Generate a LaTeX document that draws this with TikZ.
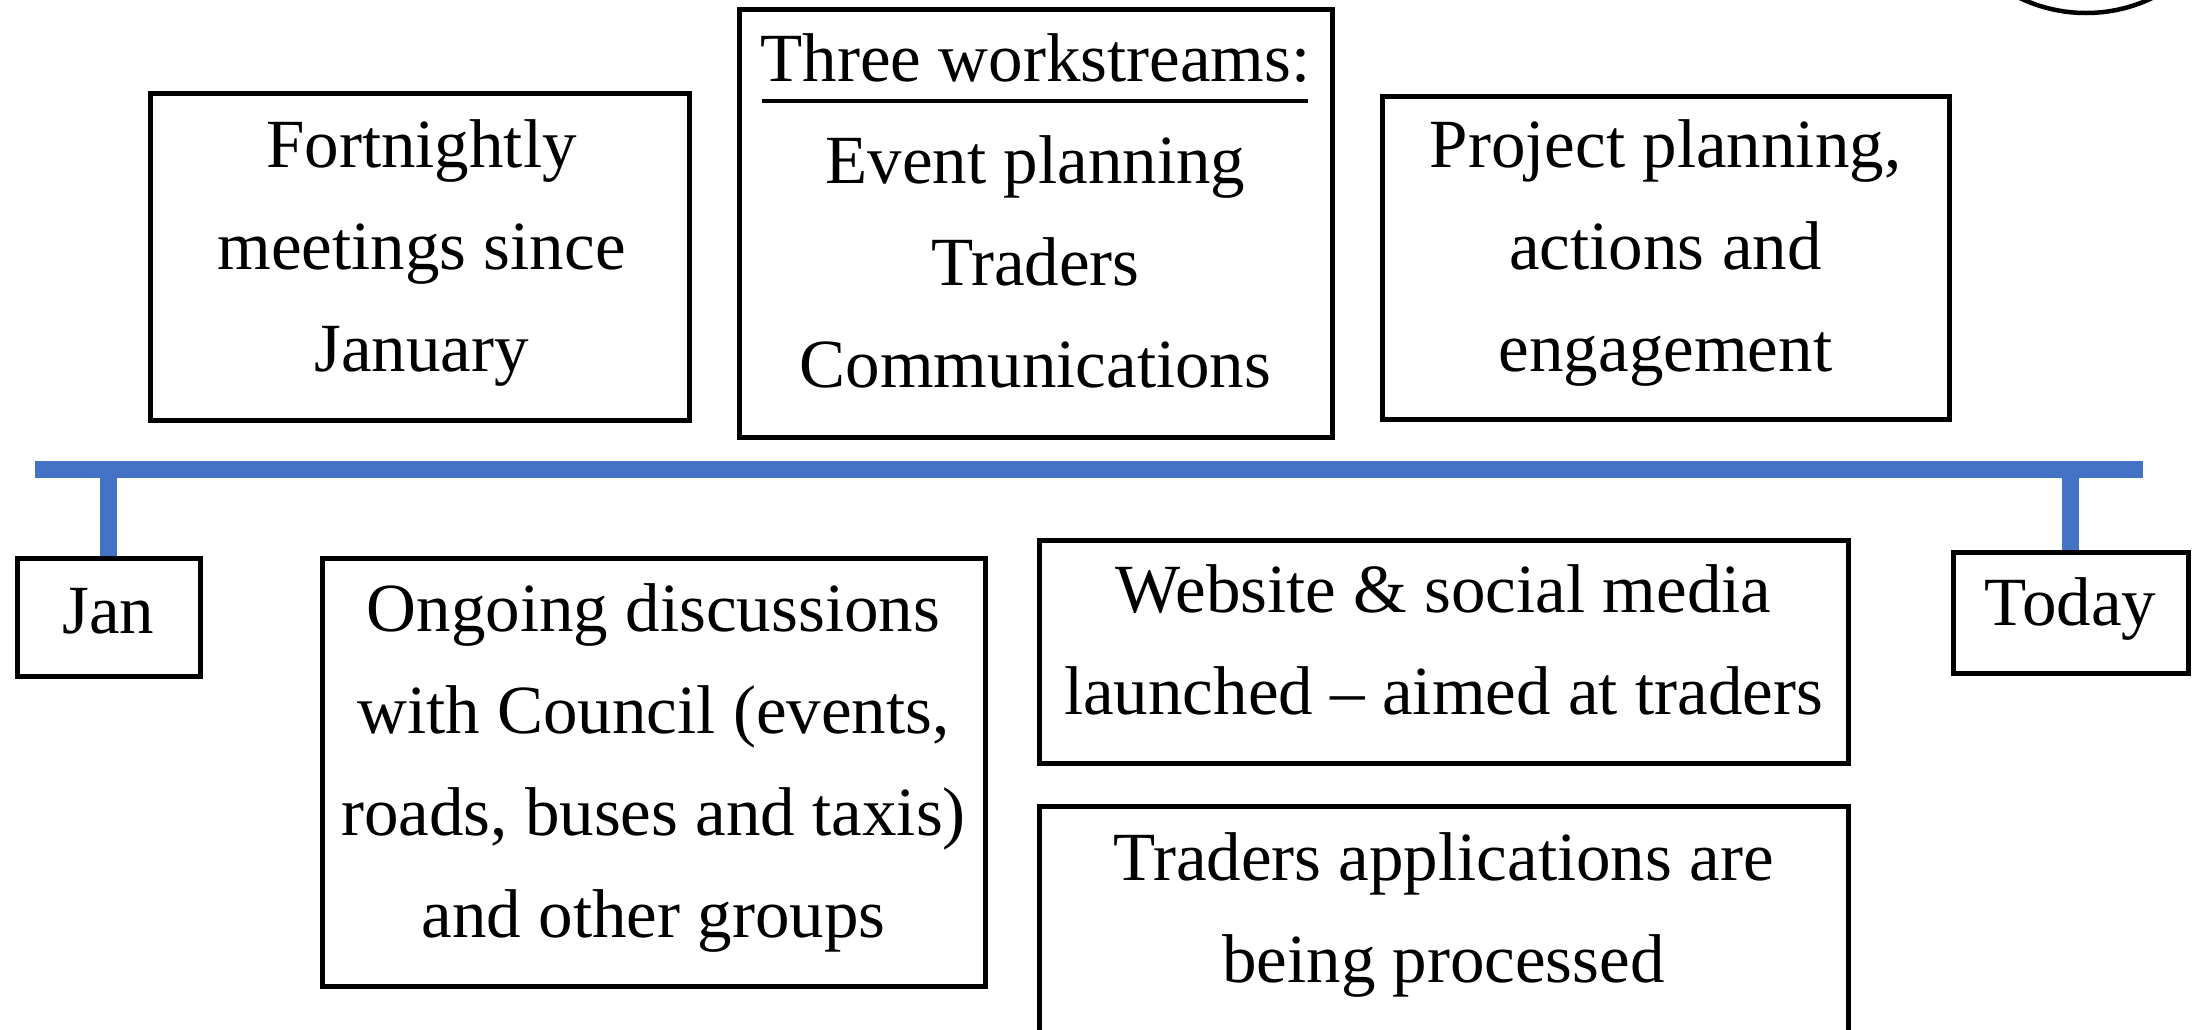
\documentclass[tikz,border=0pt]{standalone}
\usepackage{fontspec}
\setmainfont{Liberation Serif}
\definecolor{tlblue}{HTML}{4472C4}
\begin{document}
\begin{tikzpicture}[x=1pt,y=-1pt,
  box/.style={draw=black, line width=5pt, inner sep=0pt, fill=white},
  txt/.style={align=center, font=\fontsize{69}{102}\selectfont, inner sep=0pt},
  tl/.style={draw=tlblue, line width=17pt}]
\useasboundingbox (0,0) rectangle (2201,1029);
\clip (0,0) rectangle (2201,1029);
\fill[white] (0,0) rectangle (2201,1029);

% decorative circle, top right (mostly off the page)
\node[draw, circle, line width=4.5pt, minimum size=306pt, inner sep=0pt] (deco) at (2086,-140) {};

% timeline
\coordinate (tlL) at (35,469);
\coordinate (tlR) at (2143,469);
\draw[tl] (tlL) -- (tlR);

% boxes
\node[box, minimum width=539pt, minimum height=327pt] (fort) at (420,257) {};
\node[box, minimum width=593pt, minimum height=428pt] (three) at (1035.5,223) {};
\node[box, minimum width=567pt, minimum height=323pt] (proj) at (1665.5,257.5) {};
\node[box, minimum width=183pt, minimum height=118pt] (jan) at (108.5,617) {};
\node[box, minimum width=235pt, minimum height=121pt] (today) at (2070.5,612.5) {};
\node[box, minimum width=663pt, minimum height=428pt] (ong) at (653.5,772) {};
\node[box, minimum width=809pt, minimum height=223pt] (web) at (1443.5,651.5) {};
\node[box, minimum width=809pt, minimum height=260pt] (trad) at (1443.5,936) {};

% ticks
\draw[tl] (jan.north) -- (jan.north |- tlL);
\draw[tl] (today.north) -- (today.north |- tlR);

% texts
\node[txt] (fortt) at (421.5,253) {Fortnightly\\meetings since\\January};
\node[txt] (threet) at (1035.5,210.5) {Three workstreams:\\Event planning\\Traders\\Communications};
\coordinate (ulA) at (762,101);
\coordinate (ulB) at (1308,101);
\draw[line width=4pt] (ulA) -- (ulB);
\node[txt] (projt) at (1665.5,253) {Project planning,\\actions and\\engagement};
\node[txt] (jant) at (108.5,611) {Jan};
\node[txt] (todayt) at (2070.5,609) {Today};
\node[txt] (ongt) at (653.5,768) {Ongoing discussions\\with Council (events,\\roads, buses and taxis)\\and other groups};
\node[txt] (webt) at (1443.5,640) {Website \& social media\\launched – aimed at traders};
\node[txt] (tradt) at (1443.5,914.5) {Traders applications are\\being processed};
\end{tikzpicture}
\end{document}
